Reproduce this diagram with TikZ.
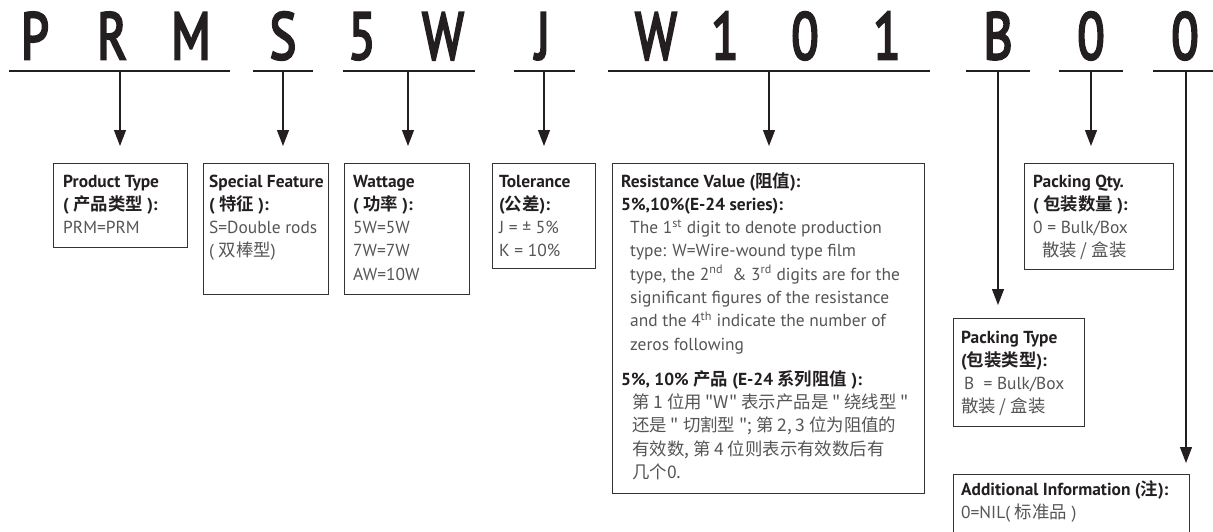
\documentclass[tikz,border=0pt]{standalone}
\usepackage{fontspec}
\setmainfont{PT Sans}
\newfontfamily\bigfont{PT Sans}[FakeBold=4]
\newfontfamily\cjk{Noto Sans CJK SC}[BoldFont={Noto Sans CJK SC Bold}]
\usetikzlibrary{arrows.meta}
\definecolor{ink}{HTML}{231F20}
\definecolor{bodygray}{HTML}{555555}
\definecolor{frame}{HTML}{333333}
\newcommand\zh[1]{{\cjk #1}}
\newcommand\hd[1]{\textbf{\color{ink}#1}}
\begin{document}
\begin{tikzpicture}[x=1pt,y=-1pt,
  big/.style={anchor=base, font=\bigfont\fontsize{66}{66}\selectfont, text=ink, inner sep=0, xscale=0.76},
  uline/.style={draw=ink, line width=1.8pt},
  arr/.style={draw=ink, line width=1.2pt, -{Triangle[width=12pt,length=16pt]}},
  infobox/.style 2 args={draw=frame, line width=1.1pt, anchor=north west, inner sep=0,
    minimum width=#1, minimum height=#2},
  txt/.style={anchor=base west, inner sep=0, font=\fontsize{17.4}{23.3}\selectfont, text=bodygray}]
\useasboundingbox (0,0) rectangle (1213,531);
\clip (0,0) rectangle (1213,531);
% code letters
\node[big] (l1) at (35,59) {P};
\node[big] (l2) at (112,59) {R};
\node[big] (l3) at (191,59) {M};
\node[big] (l4) at (283,59) {S};
\node[big] (l5) at (362,59) {5};
\node[big] (l6) at (443,59) {W};
\node[big] (l7) at (543,59) {J};
\node[big] (l8) at (656,59) {W};
\node[big] (l9) at (725,59) {1};
\node[big] (l10) at (805,59) {0};
\node[big] (l11) at (887,59) {1};
\node[big] (l12) at (998,59) {B};
\node[big] (l13) at (1091,59) {0};
\node[big] (l14) at (1185,59) {0};
% underlines
\draw[uline] (9,71) -- (230,71);
\draw[uline] (253,71) -- (313,71);
\draw[uline] (343,71) -- (475,71);
\draw[uline] (514,71) -- (575,71);
\draw[uline] (608,71) -- (930,71);
\draw[uline] (966,71) -- (1030,71);
\draw[uline] (1059,71) -- (1123,71);
\draw[uline] (1153,71) -- (1215,71);
\coordinate (u1) at (120,71);
\coordinate (u2) at (283,71);
\coordinate (u3) at (408,71);
\coordinate (u4) at (544,71);
\coordinate (u5) at (769,71);
\coordinate (u6) at (998,71);
\coordinate (u7) at (1091,71);
\coordinate (u8) at (1186,71);
% boxes
\node[infobox={134pt}{84pt}] (prod) at (53,163) {};
\node[infobox={125pt}{131pt}] (spec) at (203,163) {};
\node[infobox={125pt}{131pt}] (watt) at (344,163) {};
\node[infobox={103pt}{105pt}] (tol) at (492,163) {};
\node[infobox={312pt}{330pt}] (res) at (612,163) {};
\node[infobox={149pt}{106pt}] (qty) at (1024,163) {};
\node[infobox={131pt}{108pt}] (ptype) at (953,318) {};
\node[infobox={236pt}{80pt}] (addl) at (953,474) {};
% connectors
\draw[arr, shorten >=17pt] (u1) -- (u1 |- prod.north);
\draw[arr, shorten >=17pt] (u2) -- (u2 |- spec.north);
\draw[arr, shorten >=17pt] (u3) -- (u3 |- watt.north);
\draw[arr, shorten >=17pt] (u4) -- (u4 |- tol.north);
\draw[arr, shorten >=17pt] (u5) -- (u5 |- res.north);
\draw[arr, shorten >=17pt] (u7) -- (u7 |- qty.north);
\draw[arr, shorten >=13pt] (u6) -- (u6 |- ptype.north);
\draw[arr, shorten >=11pt] (u8) -- (u8 |- addl.north);
% texts
\node[txt] (prodt) at (63,187) {\begin{tabular}[t]{@{}l@{}}\hd{Product Type}\\ \hd{( \zh{产品类型} ):}\\ PRM=PRM\end{tabular}};
\node[txt] (spect) at (209,187) {\begin{tabular}[t]{@{}l@{}}\hd{Special Feature}\\ \hd{( \zh{特征} ):}\\ S=Double rods\\ ( \zh{双棒型})\end{tabular}};
\node[txt] (wattt) at (353,187) {\begin{tabular}[t]{@{}l@{}}\hd{Wattage}\\ \hd{( \zh{功率} ):}\\ 5W=5W\\ 7W=7W\\ AW=10W\end{tabular}};
\node[txt] (tolt) at (499,187) {\begin{tabular}[t]{@{}l@{}}\hd{Tolerance}\\ \hd{(\zh{公差}):}\\ J = ± 5\%\\ K = 10\%\end{tabular}};
\node[txt] (rest) at (621,187) {\begin{tabular}[t]{@{}l@{}}\hd{Resistance Value (\zh{阻值}):}\\ \hd{5\%,10\%(E-24 series):}\\
\hspace*{9pt}The 1\textsuperscript{st} digit to denote production\\
\hspace*{9pt}type: W=Wire-wound type film\\
\hspace*{9pt}type, the 2\textsuperscript{nd}\ \ \& 3\textsuperscript{rd} digits are for the\\
\hspace*{9pt}significant figures of the resistance\\
\hspace*{9pt}and the 4\textsuperscript{th} indicate the number of\\
\hspace*{9pt}zeros following\\[11.7pt]
\hd{5\%, 10\% \zh{产品} (E-24 \zh{系列阻值} ):}\\
\hspace*{11pt}\zh{第 1 位用 "W" 表示产品是 " 绕线型 "}\\
\hspace*{11pt}\zh{还是 " 切割型 "; 第 2, 3 位为阻值的}\\
\hspace*{11pt}\zh{有效数, 第 4 位则表示有效数后有}\\
\hspace*{11pt}\zh{几个0.}\end{tabular}};
\node[txt] (qtyt) at (1033,187) {\begin{tabular}[t]{@{}l@{}}\hd{Packing Qty.}\\ \hd{( \zh{包装数量} ):}\\ 0 = Bulk/Box\\ \hspace*{9pt}\zh{散装 / 盒装}\end{tabular}};
\node[txt] (ptypet) at (961,343) {\begin{tabular}[t]{@{}l@{}}\hd{Packing Type}\\ \hd{(\zh{包装类型}):}\\ \hspace*{3pt}B\ \ = Bulk/Box\\ \zh{散装 / 盒装}\end{tabular}};
\node[txt] (addlt) at (961,495) {\begin{tabular}[t]{@{}l@{}}\hd{Additional Information (\zh{注}):}\\ 0=NIL( \zh{标准品} )\end{tabular}};
\end{tikzpicture}
\end{document}
